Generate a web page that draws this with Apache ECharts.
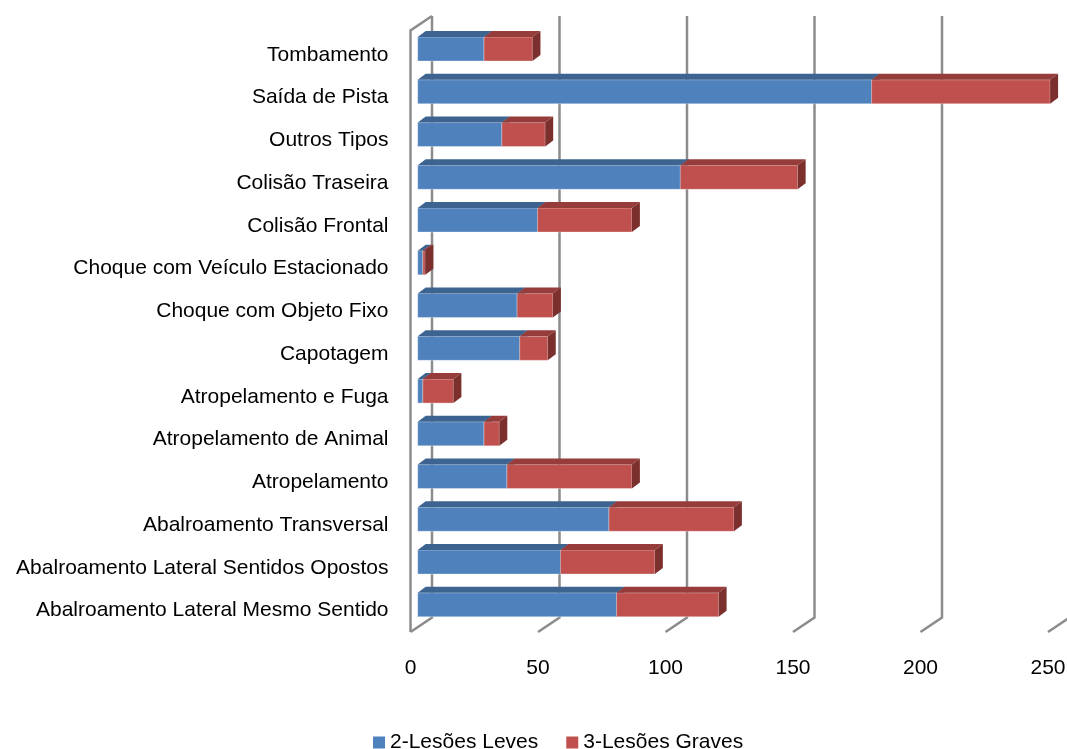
<!DOCTYPE html>
<html>
<head>
<meta charset="utf-8">
<script src="https://cdn.jsdelivr.net/npm/echarts@6/dist/echarts.min.js"></script>
<style>html,body{margin:0;padding:0;background:#fff}#c{width:1067px;height:749px}</style>
</head>
<body>
<div id="c"></div>
<script>
const categories = ['Tombamento','Saída de Pista','Outros Tipos','Colisão Traseira','Colisão Frontal','Choque com Veículo Estacionado','Choque com Objeto Fixo','Capotagem','Atropelamento e Fuga','Atropelamento de Animal','Atropelamento','Abalroamento Transversal','Abalroamento Lateral Sentidos Opostos','Abalroamento Lateral Mesmo Sentido'];
const leves = [26, 178, 33, 103, 47, 2, 39, 40, 2, 26, 35, 75, 56, 78];
const graves = [19, 70, 17, 46, 37, 1, 14, 11, 12, 6, 49, 49, 37, 40];
const xTicks = [0, 50, 100, 150, 200, 250];
const seriesNames = ['2-Lesões Leves', '3-Lesões Graves'];

const FONT = '"Liberation Sans", Arial, sans-serif';
const DEPTH_X = 21.5, DEPTH_Y = 14.5;   // wall depth
const BAR_DX = 7.2, BAR_DY = -5.8;      // bar front-face offset from front plane
const BAR_H = 24, TOP_DX = 8, TOP_DY = 6;

function barRender(face, top, side) {
  return function (params, api) {
    const cat = api.value(0), s = api.value(1), e = api.value(2);
    const p0 = api.coord([s, cat]);
    const p1 = api.coord([e, cat]);
    const x0 = p0[0] + BAR_DX, x1 = p1[0] + BAR_DX;
    const yc = p0[1] + BAR_DY;
    const yt = yc - BAR_H / 2, yb = yc + BAR_H / 2;
    return {
      type: 'group',
      children: [
        { type: 'rect', shape: { x: x0, y: yt, width: x1 - x0, height: BAR_H },
          style: { fill: face, stroke: 'rgba(255,255,255,0.35)', lineWidth: 1 } },
        { type: 'polygon', shape: { points: [[x0, yt], [x1, yt], [x1 + TOP_DX, yt - TOP_DY], [x0 + TOP_DX, yt - TOP_DY]] },
          style: { fill: top } },
        { type: 'polygon', shape: { points: [[x1, yt], [x1 + TOP_DX, yt - TOP_DY], [x1 + TOP_DX, yb - TOP_DY], [x1, yb]] },
          style: { fill: side } }
      ]
    };
  };
}

function wallRender(params, api) {
  const v = api.value(0);
  const cs = params.coordSys;
  const x = api.coord([v, 0])[0];
  const bottom = cs.y + cs.height, topY = cs.y;
  const st = { stroke: '#8c8c8c', lineWidth: 2.5, fill: null };
  const children = [
    { type: 'polyline', shape: { points: [[x, bottom], [x + DEPTH_X, bottom - DEPTH_Y], [x + DEPTH_X, topY - 17.5]] }, style: st }
  ];
  if (v === 0) {
    children.push({ type: 'polyline', shape: { points: [[x, bottom], [x, topY - 3], [x + DEPTH_X, topY - 17.5]] }, style: st });
  }
  return { type: 'group', children };
}

const chart = echarts.init(document.getElementById('c'), null, { renderer: 'canvas' });
chart.setOption({
  animation: false,
  backgroundColor: '#ffffff',
  textStyle: { fontFamily: FONT },
  grid: { left: 410.5, top: 33.5, width: 637.5, height: 598.5, containLabel: false, outerBoundsMode: 'none' },
  legend: {
    left: 368, top: 727,
    icon: 'rect', itemWidth: 12, itemHeight: 12, itemGap: 28,
    textStyle: { fontFamily: FONT, fontSize: 21, color: '#000' },
    data: seriesNames
  },
  xAxis: {
    type: 'value', min: 0, max: 250, interval: 50,
    axisLine: { show: false }, axisTick: { show: false }, splitLine: { show: false },
    axisLabel: { fontFamily: FONT, fontSize: 21, color: '#000', margin: 26 }
  },
  yAxis: {
    type: 'category', data: categories, inverse: true,
    axisLine: { show: false }, axisTick: { show: false }, splitLine: { show: false },
    axisLabel: { fontFamily: FONT, fontSize: 21, color: '#000', margin: 22 }
  },
  series: [
    {
      type: 'custom', name: 'walls', z: 1, silent: true,
      renderItem: wallRender,
      encode: { x: 0, y: 1 },
      data: xTicks.map(v => [v, 0])
    },
    {
      type: 'custom', name: seriesNames[0], z: 2,
      itemStyle: { color: '#4F81BD' },
      renderItem: barRender('#4F81BD', '#3D6491', '#35577f'),
      encode: { x: [1, 2], y: 0 },
      data: leves.map((v, i) => [i, 0, v])
    },
    {
      type: 'custom', name: seriesNames[1], z: 3,
      itemStyle: { color: '#C0504D' },
      renderItem: barRender('#C0504D', '#963D3B', '#7C302E'),
      encode: { x: [1, 2], y: 0 },
      data: graves.map((v, i) => [i, leves[i], leves[i] + v])
    }
  ]
});
</script>
</body>
</html>
